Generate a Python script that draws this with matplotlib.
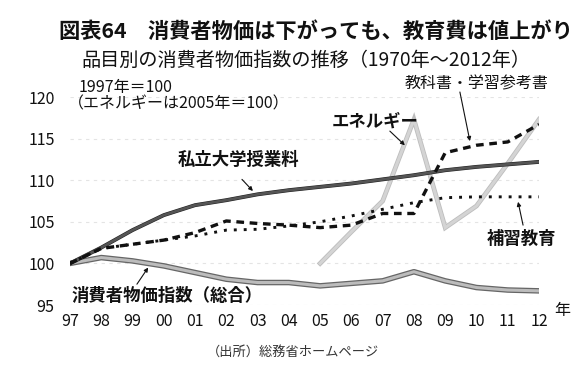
import matplotlib
matplotlib.use('Agg')
import matplotlib.pyplot as plt
import matplotlib.patheffects as pe
import numpy as np

plt.rcParams['font.family'] = ['Noto Sans CJK JP', 'DejaVu Sans']

# data (index, 1997 = 100)
years = ['97', '98', '99', '00', '01', '02', '03', '04',
         '05', '06', '07', '08', '09', '10', '11', '12']
cpi = [100.0, 100.7, 100.3, 99.7, 98.9, 98.1, 97.7, 97.7,
       97.3, 97.6, 97.9, 99.0, 97.9, 97.1, 96.8, 96.7]
tuition = [100.0, 101.9, 104.0, 105.8, 107.0, 107.6, 108.3, 108.8,
           109.2, 109.6, 110.1, 110.6, 111.2, 111.6, 111.9, 112.2]
textbook = [100.0, 101.8, 102.3, 102.8, 103.7, 105.1, 104.8, 104.6,
            104.3, 104.6, 106.0, 106.0, 113.3, 114.2, 114.6, 116.7]
tutoring = [100.0, 101.8, 102.3, 102.8, 103.3, 104.0, 104.1, 104.5,
            105.0, 105.7, 106.5, 107.3, 107.9, 108.0, 108.0, 108.0]
# energy starts in 2005 (2005 = 100)
energy_years = years[8:]
energy = [100.0, 103.8, 107.5, 117.3, 104.3, 106.9, 112.0, 117.3]

x = np.arange(len(years))
xe = np.arange(8, len(years))

fig = plt.figure(figsize=(5.86, 3.87), dpi=100)
ax = fig.add_axes([70/586, 82/387, 469/586, 208/387])

for yv in [95, 100, 105, 110, 115, 120]:
    ax.axhline(yv, color='#e4e4e4', lw=0.8, ls=(0, (3, 4)), zorder=0)

ax.plot(xe, energy, color='#d4d4d4', lw=2.2, solid_joinstyle='miter', zorder=2,
        path_effects=[pe.Stroke(linewidth=3.4, foreground='#bdbdbd'), pe.Normal()])
ax.plot(x, cpi, color='#bcbcbc', lw=2.2, zorder=3,
        path_effects=[pe.Stroke(linewidth=4.0, foreground='#666666'), pe.Normal()])
ax.plot(x, tuition, color='#555555', lw=2.0, zorder=3,
        path_effects=[pe.Stroke(linewidth=2.8, foreground='#222222'), pe.Normal()])
ax.plot(x, tutoring, color='#111111', lw=2.1, dashes=(1, 2.4), zorder=4)
ax.plot(x, textbook, color='#111111', lw=2.4, dashes=(2.3, 1.7), zorder=4)

ax.set_xlim(0, 15)
ax.set_ylim(95, 120)
ax.set_xticks(x)
ax.set_xticklabels(years)
ax.set_yticks([95, 100, 105, 110, 115, 120])
for s in ax.spines.values():
    s.set_visible(False)
ax.tick_params(axis='both', length=0, labelsize=11.5, colors='#111111')
ax.tick_params(axis='y', pad=11)
ax.tick_params(axis='x', pad=6)

arrow = dict(arrowstyle='-|>', color='#111111', lw=0.8, mutation_scale=6,
             shrinkA=0, shrinkB=0)
lab = dict(fontsize=12.5, fontweight='bold', color='#111111')

ax.text(5.4, 112.4, '私立大学授業料', ha='center', va='center', **lab)
ax.annotate('', xy=(5.85, 108.7), xytext=(5.5, 110.1), arrowprops=arrow)

ax.text(0.06, 96.1, '消費者物価指数（総合）', ha='left', va='center', **lab)
ax.annotate('', xy=(2.5, 99.5), xytext=(2.14, 97.5), arrowprops=arrow)

ax.text(9.75, 117.0, 'エネルギー', ha='center', va='center', **lab)
ax.annotate('', xy=(10.71, 114.2), xytext=(10.23, 115.9), arrowprops=arrow)

ax.text(13.0, 121.6, '教科書・学習参考書', ha='center', va='center',
        fontsize=11.5, color='#111111', clip_on=False)
ax.annotate('', xy=(12.79, 114.7), xytext=(12.47, 120.6), arrowprops=arrow,
            annotation_clip=False)

ax.text(14.45, 103.0, '補習教育', ha='center', va='center', **lab)
ax.annotate('', xy=(14.33, 107.4), xytext=(14.49, 104.6), arrowprops=arrow)

ax.text(0.26, 121.1, '1997年＝100', ha='left', va='center', fontsize=11.5,
        color='#111111', clip_on=False)
ax.text(-0.06, 119.2, '（エネルギーは2005年＝100）', ha='left', va='center',
        fontsize=11.5, color='#111111', clip_on=False)

fig.text(562/586, 1 - 311/387, '年', ha='center', va='center', fontsize=11.5,
         color='#111111')
fig.text(316/586, 1 - 31/387, '図表64　消費者物価は下がっても、教育費は値上がり',
         ha='center', va='center', fontsize=15.3, fontweight='bold', color='#111111')
fig.text(306/586, 1 - 60/387, '品目別の消費者物価指数の推移（1970年～2012年）',
         ha='center', va='center', fontsize=13.8, color='#111111')
fig.text(293/586, 1 - 352/387, '（出所）総務省ホームページ', ha='center', va='center',
         fontsize=9.5, color='#333333')

fig.savefig('out.png', dpi=100)
